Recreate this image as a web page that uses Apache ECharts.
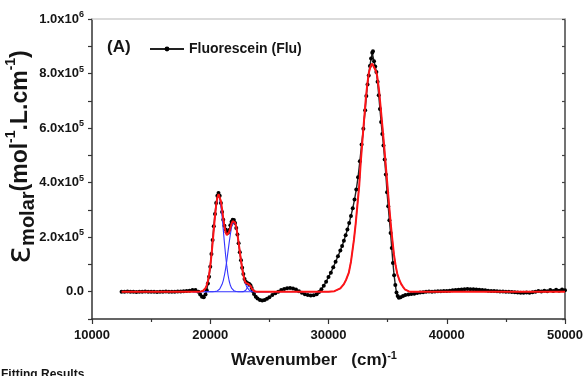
<!DOCTYPE html>
<html><head><meta charset="utf-8">
<script src="https://cdn.jsdelivr.net/npm/echarts@6/dist/echarts.min.js"></script>
<style>html,body{margin:0;padding:0;background:#fff}#c{width:587px;height:376px}</style>
</head><body><div id="c"></div>
<script>
const seriesName = 'Fluorescein (Flu)';
const xMin = 10000, xMax = 50000, xStep = 10000;
const xTickValues = [10000, 20000, 30000, 40000, 50000];
const xTickLabels = ['10000', '20000', '30000', '40000', '50000'];
const yMin = -100000, yMax = 1000000, yStep = 100000;
const yTickValues = [0, 200000, 400000, 600000, 800000, 1000000];
const yTickMantissa = ['0.0', '2.0x10', '4.0x10', '6.0x10', '8.0x10', '1.0x10'];
const yTickExponent = ['', '5', '5', '5', '5', '6'];

// experimental spectrum (black dots)
const blackX = [
12500,12750,13000,13250,13500,13750,14000,14250,14500,14750,
15000,15250,15500,15750,16000,16250,16500,16750,17000,17250,
17500,17750,18000,18250,18500,18750,19000,19150,19300,19450,
19600,19700,19800,19900,20000,20100,20200,20300,20400,20500,
20600,20700,20800,20900,21000,21100,21200,21300,21400,21500,
21600,21700,21800,21900,22000,22100,22200,22300,22400,22500,
22600,22700,22800,22900,23000,23100,23200,23300,23400,23500,
23600,23700,23850,24000,24200,24400,24600,24800,25000,25250,
25500,25750,26000,26250,26500,26750,27000,27250,27500,27750,
28000,28250,28500,28750,29000,29200,29400,29600,29800,30000,
30200,30400,30600,30800,31000,31150,31300,31450,31600,31750,
31900,32050,32200,32350,32500,32650,32800,32950,33100,33200,
33300,33400,33500,33600,33700,33760,33850,33950,34050,34150,
34250,34350,34450,34550,34650,34750,34850,34950,35050,35150,
35250,35350,35450,35550,35650,35750,35850,35950,36100,36300,
36500,36750,37000,37250,37500,37750,38000,38250,38500,38750,
39000,39250,39500,39750,40000,40250,40500,40750,41000,41250,
41500,41750,42000,42250,42500,42750,43000,43250,43500,43750,
44000,44250,44500,44750,45000,45250,45500,45750,46000,46250,
46500,46750,47000,47250,47500,47750,48000,48250,48500,48750,
49000,49250,49500,49750,50000];
const blackY = [
0,0,1000,0,0,-1000,0,0,1000,0,
0,0,-1000,0,0,1000,0,0,0,1000,
1000,2000,3000,4000,6000,6000,0,-10000,-18000,-20000,
-10000,5000,30000,55000,92000,138000,190000,240000,285000,325000,
352000,362000,352000,325000,292000,264000,242000,228000,218000,216000,
226000,244000,257000,264000,263000,252000,234000,210000,178000,145000,
115000,88000,65000,47000,37000,32000,30000,28000,24000,14000,
3000,-8000,-18000,-25000,-30000,-32000,-30000,-26000,-20000,-12000,
-6000,0,6000,10000,13000,14000,12000,8000,2000,-4000,
-9000,-12000,-14000,-13000,-9000,-1000,9000,22000,37000,54000,
70000,90000,110000,130000,151000,168000,187000,207000,228000,252000,
278000,306000,338000,375000,420000,478000,540000,598000,665000,718000,
760000,793000,828000,855000,876000,882000,845000,826000,806000,770000,
720000,670000,622000,578000,536000,485000,430000,365000,313000,262000,
215000,160000,105000,60000,25000,-3000,-16000,-22000,-20000,-16000,
-12000,-10000,-8000,-7000,-5000,-3000,-2000,0,1000,0,
1000,2000,2000,3000,3000,4000,5000,6000,7000,8000,
9000,10000,9000,9000,8000,7000,6000,5000,4000,3000,
3000,2000,1000,1000,0,0,-1000,-2000,-3000,-4000,
-4000,-3000,-4000,-2000,0,3000,1000,4000,2000,6000,
3000,7000,4000,8000,5000];

// cumulative fit (red)
const redX = [12500,19000,19100,19200,19300,19400,19500,19600,19700,19800,19900,
20000,20100,20200,20300,20400,20500,20600,20700,20800,20900,
21000,21100,21200,21300,21400,21500,21600,21700,21800,21900,
22000,22100,22200,22300,22400,22500,22600,22700,22800,22900,
23000,23100,23200,23300,23400,23500,23600,23700,23800,23900,24000,
30000,30500,31000,31300,31500,31720,31900,32150,32300,32430,32600,32710,32850,
33000,33150,33280,33420,33560,33700,33850,34000,34120,34270,34410,34550,34690,34830,34970,
35100,35250,35400,35540,35680,35820,36000,36150,36300,36450,36600,36800,37000,50000];
const redY = [0,100,350,800,1760,3650,7200,13300,23500,39400,62300,
93600,133100,179200,228800,276800,317400,345500,357600,352400,332500,
303000,269400,240000,218000,207600,209300,219400,233500,249300,259200,
261700,253800,236800,210400,180100,147000,114000,85100,61500,42900,
32500,28600,28800,27600,21900,13500,6300,2400,630,180,0,
0,2000,12000,28000,45000,70000,110000,190000,250000,311000,390000,465000,545000,
625000,705000,760000,805000,828000,836000,830000,810000,790000,740000,676000,610000,542000,470000,397000,
330000,255000,190000,135000,95000,65000,42000,28000,18000,9000,3500,1000,0,0];

// fitted components (blue)
const blue1X = [18500,19000,19100,19200,19300,19400,19500,19600,19700,19800,19900,20000,20100,20200,20300,20400,20500,20600,20700,20800,20900,21000,21100,21200,21300,21400,21500,21600,21700,21800,21900,22000,22100,22200,22400,25000];
const blue1Y = [0,140,350,800,1760,3650,7200,13300,23500,39400,62300,93600,133000,179000,228400,276000,315800,342500,352000,342500,315800,276000,228400,179000,133000,93600,62300,39400,23500,13300,7200,3650,1760,800,140,0];
const blue2X = [18500,20000,20200,20400,20500,20600,20700,20800,20900,21000,21100,21200,21300,21400,21500,21600,21700,21800,21900,22000,22100,22200,22300,22400,22500,22600,22700,22800,22900,23000,23100,23200,23300,23400,23500,23600,23800,24000,25000];
const blue2Y = [0,30,170,800,1600,3000,5600,9900,16700,27000,41000,61000,85000,114000,147000,180000,210000,236000,252000,258000,252000,236000,210000,180000,147000,114000,85000,61000,41000,27000,16700,9900,5600,3000,1600,800,170,30,0];
const blue3X = [18500,22600,22700,22800,22900,23000,23100,23200,23300,23400,23500,23600,23700,23800,23900,24000,25000];
const blue3Y = [0,0,90,460,1900,5500,11900,18900,22000,18900,11900,5500,1900,460,90,0,0];
const blue4X = [25000,30000,30500,31000,31300,31500,31720,31900,32150,32300,32430,32600,32710,32850,
33000,33150,33280,33420,33560,33700,33850,34000,34120,34270,34410,34550,34690,34830,34970,
35100,35250,35400,35540,35680,35820,36000,36150,36300,36450,36600,36800,37000,38000];
const blue4Y = [0,0,2000,12000,28000,45000,70000,110000,190000,250000,311000,390000,465000,545000,
625000,705000,760000,805000,828000,836000,830000,810000,790000,740000,676000,610000,542000,470000,397000,
330000,255000,190000,135000,95000,65000,42000,28000,18000,9000,3500,1000,0,0];

function zip(xs, ys) { return xs.map(function (x, i) { return [x, ys[i]]; }); }

const FONT = '"Liberation Sans", Arial, sans-serif';
const chart = echarts.init(document.getElementById('c'), null, { renderer: 'canvas' });

function blueSeries(xs, ys) {
  return { type: 'line', data: zip(xs, ys), symbol: 'none', silent: true, z: 3,
    lineStyle: { color: '#3434ff', width: 1.1 } };
}

chart.setOption({
  animation: false,
  backgroundColor: '#ffffff',
  grid: { left: 92, right: 22, top: 19, bottom: 57, containLabel: false },
  legend: {
    data: [seriesName], left: 144, top: 37, itemWidth: 34, itemHeight: 6,
    textStyle: { fontFamily: FONT, fontSize: 14, fontWeight: 'bold', color: '#151515' }
  },
  xAxis: [{
    type: 'value', min: xMin, max: xMax, interval: xStep, position: 'bottom',
    axisLine: { show: true, onZero: false, lineStyle: { color: '#333', width: 1.5 } },
    axisTick: { show: true, inside: false, length: 5, lineStyle: { color: '#333', width: 1.2 } },
    minorTick: { show: true, splitNumber: 2, length: 3, lineStyle: { color: '#333', width: 1.2 } },
    splitLine: { show: false },
    axisLabel: { margin: 10, color: '#151515', fontFamily: FONT, fontSize: 13, fontWeight: 'bold',
      formatter: function (v) { const i = xTickValues.indexOf(Math.round(v)); return i < 0 ? '' : xTickLabels[i]; } }
  }, {
    type: 'value', min: xMin, max: xMax, position: 'top',
    axisLine: { show: true, onZero: false, lineStyle: { color: '#cfcfcf', width: 1.5 } },
    axisTick: { show: false }, axisLabel: { show: false }, splitLine: { show: false }
  }],
  yAxis: [{
    type: 'value', min: yMin, max: yMax, interval: yStep, position: 'left',
    axisLine: { show: true, onZero: false, lineStyle: { color: '#333', width: 1.5 } },
    axisTick: { show: true, inside: false, length: 4, lineStyle: { color: '#333', width: 1.2 } },
    splitLine: { show: false },
    axisLabel: {
      margin: 8,
      formatter: function (v) {
        const i = yTickValues.indexOf(Math.round(v));
        if (i < 0) return '';
        return yTickExponent[i] ? '{m|' + yTickMantissa[i] + '}{e|' + yTickExponent[i] + '}' : '{m|' + yTickMantissa[i] + '}';
      },
      rich: {
        m: { fontFamily: FONT, fontSize: 13, fontWeight: 'bold', color: '#151515', lineHeight: 18 },
        e: { fontFamily: FONT, fontSize: 9, fontWeight: 'bold', color: '#151515', lineHeight: 9, verticalAlign: 'top' }
      }
    }
  }, {
    type: 'value', min: yMin, max: yMax, interval: yStep, position: 'right',
    axisLine: { show: true, onZero: false, lineStyle: { color: '#444', width: 1.5 } },
    axisTick: { show: true, inside: true, length: 3, lineStyle: { color: '#444', width: 1.2 } },
    axisLabel: { show: false }, splitLine: { show: false }
  }],
  series: [
    { type: 'line', name: seriesName, data: zip(blackX, blackY), z: 2,
      symbol: 'circle', symbolSize: 4, showSymbol: true,
      lineStyle: { color: '#222', width: 1.4 }, itemStyle: { color: '#000' } },
    blueSeries(blue1X, blue1Y),
    blueSeries(blue2X, blue2Y),
    blueSeries(blue3X, blue3Y),
    blueSeries(blue4X, blue4Y),
    { type: 'line', data: zip(redX, redY), symbol: 'none', silent: true, z: 4,
      lineStyle: { color: '#ff1414', width: 2 } }
  ],
  graphic: [
    { type: 'text', x: 107, y: 47, style: { text: '(A)', fontFamily: FONT, fontSize: 17, fontWeight: 'bold', fill: '#151515', verticalAlign: 'middle', textVerticalAlign: 'middle' } },
    { type: 'text', x: 21, y: 157, rotation: Math.PI / 2,
      style: {
        text: '{e|ε}{s|molar}{n|(mol}{p|-1}{n|.L.cm}{p|-1}{n|)}',
        align: 'center', verticalAlign: 'middle', textAlign: 'center', textVerticalAlign: 'middle',
        rich: {
          e: { fontFamily: '"DejaVu Sans", sans-serif', fontSize: 33, fill: '#151515', lineHeight: 34 },
          s: { fontFamily: FONT, fontSize: 20, fontWeight: 'bold', fill: '#151515', verticalAlign: 'bottom', lineHeight: 20 },
          n: { fontFamily: FONT, fontSize: 23, fontWeight: 'bold', fill: '#151515', lineHeight: 25 },
          p: { fontFamily: FONT, fontSize: 14, fontWeight: 'bold', fill: '#151515', verticalAlign: 'top', lineHeight: 14 }
        }
      } },
    { type: 'text', x: 231, y: 360,
      style: {
        text: '{n|Wavenumber   (cm)}{p|-1}', verticalAlign: 'middle', textVerticalAlign: 'middle',
        rich: {
          n: { fontFamily: FONT, fontSize: 17, fontWeight: 'bold', fill: '#151515', lineHeight: 20 },
          p: { fontFamily: FONT, fontSize: 11, fontWeight: 'bold', fill: '#151515', verticalAlign: 'top', lineHeight: 11 }
        }
      } },
    { type: 'text', x: 1, y: 369, style: { text: 'Fitting Results', fontFamily: FONT, fontSize: 12, fontWeight: 'bold', fill: '#151515', verticalAlign: 'top', textVerticalAlign: 'top' } }
  ]
});
</script></body></html>
